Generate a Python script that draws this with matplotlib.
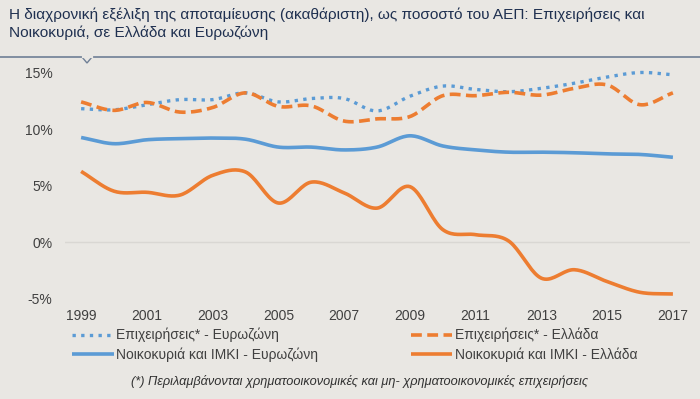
import numpy as np
import matplotlib
matplotlib.use("Agg")
import matplotlib.pyplot as plt
from matplotlib.lines import Line2D
from matplotlib.patches import Polygon

years = list(range(1999, 2018))
tick_years = list(range(1999, 2018, 2))

biz_ez = [11.8, 11.7, 12.15, 12.6, 12.6, 13.2, 12.4, 12.7, 12.7, 11.6, 12.9, 13.8, 13.5, 13.3, 13.6, 14.05, 14.6, 15.0, 14.8]
biz_gr = [12.4, 11.65, 12.35, 11.5, 11.9, 13.2, 12.0, 12.05, 10.7, 10.9, 11.1, 12.95, 12.95, 13.25, 13.0, 13.6, 13.9, 12.15, 13.2]
hh_ez = [9.25, 8.7, 9.05, 9.15, 9.2, 9.1, 8.4, 8.4, 8.15, 8.4, 9.4, 8.5, 8.15, 7.95, 7.95, 7.9, 7.8, 7.75, 7.5]
hh_gr = [6.25, 4.5, 4.4, 4.15, 5.9, 6.2, 3.45, 5.3, 4.35, 3.0, 4.9, 1.1, 0.65, 0.1, -3.2, -2.45, -3.5, -4.45, -4.6]

labels = ["Επιχειρήσεις* - Ευρωζώνη", "Νοικοκυριά και ΙΜΚΙ - Ευρωζώνη",
          "Επιχειρήσεις* - Ελλάδα", "Νοικοκυριά και ΙΜΚΙ - Ελλάδα"]
title = ("Η διαχρονική εξέλιξη της αποταμίευσης (ακαθάριστη), ως ποσοστό του ΑΕΠ: Επιχειρήσεις και\n"
         "Νοικοκυριά, σε Ελλάδα και Ευρωζώνη")
footnote = "(*) Περιλαμβάνονται χρηματοοικονομικές και μη- χρηματοοικονομικές επιχειρήσεις"

plt.rcParams['font.family'] = ['Liberation Sans', 'DejaVu Sans']

BG = "#E9E7E3"
BLUE = "#5B9BD5"
ORANGE = "#ED7D31"


def smooth(x, y, n=20):
    x = np.asarray(x, float)
    y = np.asarray(y, float)
    px = np.concatenate([[2 * x[0] - x[1]], x, [2 * x[-1] - x[-2]]])
    py = np.concatenate([[2 * y[0] - y[1]], y, [2 * y[-1] - y[-2]]])
    xs, ys = [], []
    t = np.linspace(0, 1, n, endpoint=False)

    def cr(a0, a1, a2, a3):
        return 0.5 * ((2 * a1) + (-a0 + a2) * t + (2 * a0 - 5 * a1 + 4 * a2 - a3) * t ** 2
                      + (-a0 + 3 * a1 - 3 * a2 + a3) * t ** 3)
    for i in range(1, len(px) - 2):
        xs.append(cr(px[i - 1], px[i], px[i + 1], px[i + 2]))
        ys.append(cr(py[i - 1], py[i], py[i + 1], py[i + 2]))
    xs.append([x[-1]])
    ys.append([y[-1]])
    return np.concatenate(xs), np.concatenate(ys)


fig = plt.figure(figsize=(7.0, 3.99), dpi=100, facecolor=BG)
ax = fig.add_axes([65 / 700, 1 - 300.8 / 399, 625 / 700, (300.8 - 64.6) / 399])
ax.set_facecolor(BG)

DOT = (0, (1, 1.6))
series = [
    (biz_ez, BLUE, DOT, labels[0]),
    (hh_ez, BLUE, "-", labels[1]),
    (biz_gr, ORANGE, (0, (3, 1.5)), labels[2]),
    (hh_gr, ORANGE, "-", labels[3]),
]
handles = []
for vals, col, ls, lab in series:
    sx, sy = smooth(years, vals)
    ln, = ax.plot(sx, sy, color=col, lw=2.4 if ls == DOT else 2.6,
                  linestyle=ls, label=lab, solid_capstyle="butt", dash_capstyle="butt")
    handles.append(ln)

ax.set_xlim(1998.51, 2017.52)
ax.set_ylim(-5.2, 15.7)
ax.axhline(0, color="#D9D7D3", lw=1, zorder=0)
for s in ax.spines.values():
    s.set_visible(False)
ax.set_xticks(tick_years)
ax.set_xticklabels([str(y) for y in tick_years])
ax.set_yticks([-5, 0, 5, 10, 15])
ax.set_yticklabels(["-5%", "0%", "5%", "10%", "15%"])
ax.tick_params(axis="both", length=0, colors="#404040", labelsize=10)
ax.tick_params(axis="y", pad=9)
ax.tick_params(axis="x", pad=6)

leg = fig.legend(handles=handles, labels=labels, ncol=2, loc="upper left",
                 bbox_to_anchor=(72 / 700, 1 - 328 / 399), frameon=False,
                 prop={"size": 10}, handlelength=3.0, handletextpad=0.15,
                 columnspacing=6.7, labelspacing=0.35, borderaxespad=0, borderpad=0)
for t in leg.get_texts():
    t.set_color("#404040")

fig.text(9 / 700, 1 - 8 / 399, title, ha="left", va="top", fontsize=11.1,
         color="#1F3050", linespacing=1.28)

fig.text(360 / 700, 1 - 381 / 399, footnote, ha="center", va="center", fontsize=9.2,
         style="italic", color="#303030")

# separator line with notch
ysep = 1 - 57 / 399
fig.add_artist(Line2D([0, 1], [ysep, ysep], transform=fig.transFigure, color="#6F7F96", lw=1.2))
fig.add_artist(Polygon([[82 / 700, ysep], [92 / 700, ysep], [87 / 700, 1 - 63 / 399]],
                       closed=True, transform=fig.transFigure, facecolor=BG,
                       edgecolor="#6F7F96", lw=1.0))
fig.add_artist(Line2D([82.5 / 700, 91.5 / 700], [ysep, ysep], transform=fig.transFigure,
                      color=BG, lw=1.6))

fig.savefig("out.png", dpi=100, facecolor=BG)
